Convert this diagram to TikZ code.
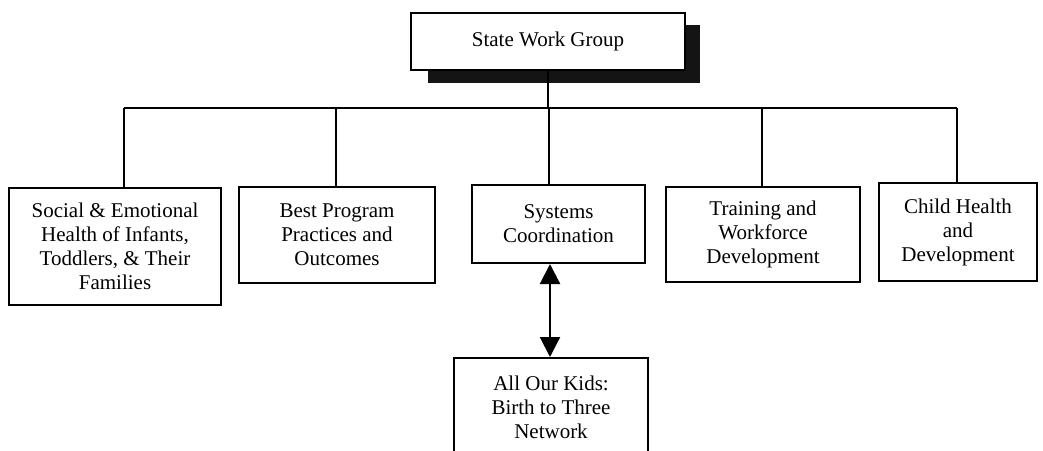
\documentclass[tikz,border=0pt]{standalone}
\usepackage{fontspec}
\setmainfont{Liberation Serif}
\usetikzlibrary{arrows.meta}
\begin{document}
\begin{tikzpicture}[x=1pt,y=-1pt,
  orgbox/.style={draw, line width=2pt, fill=white, align=center, inner sep=0pt,
    font=\fontsize{21}{24}\selectfont},
  link/.style={line width=2pt},
  twoway/.style={line width=2.2pt,
    {Triangle[length=20pt,width=20pt]}-{Triangle[length=20pt,width=20pt]}},
  shadowfill/.style={fill=black!92}]
\useasboundingbox (0,0) rectangle (1043,450);
\clip (0,0) rectangle (1043,450);
% shadow of top box
\fill[shadowfill] (428,25) rectangle (700,83);
\node[orgbox, minimum width=274pt, minimum height=57pt] (top) at (548,41.5) {State Work Group};
% child boxes
\node[orgbox, minimum width=212pt, minimum height=117pt] (soc) at (115,246.5)
  {Social \& Emotional\\Health of Infants,\\Toddlers, \& Their\\Families};
\node[orgbox, minimum width=196pt, minimum height=96pt] (best) at (337,235)
  {Best Program\\Practices and\\Outcomes};
\node[orgbox, minimum width=173pt, minimum height=78pt] (sys) at (558.5,224)
  {Systems\\Coordination};
\node[orgbox, minimum width=194pt, minimum height=95pt] (train) at (763,234.5)
  {Training and\\Workforce\\Development};
\node[orgbox, minimum width=158pt, minimum height=98pt] (child) at (958,232)
  {Child Health\\and\\Development};
\node[orgbox, minimum width=194pt, minimum height=98pt] (kids) at (551,407)
  {All Our Kids:\\Birth to Three\\Network};
% connector joints
\coordinate (j1) at (124,108);
\coordinate (j2) at (336,108);
\coordinate (j3) at (549,108);
\coordinate (j4) at (762,108);
\coordinate (j5) at (957,108);
\coordinate (ax) at (550,0);
% connectors
\draw[link] (top.south) -- (top.south |- j1);
\draw[link] (j1) -- (j5);
\draw[link] (j1) -- (j1 |- soc.north);
\draw[link] (j2) -- (j2 |- best.north);
\draw[link] (j3) -- (j3 |- sys.north);
\draw[link] (j4) -- (j4 |- train.north);
\draw[link] (j5) -- (j5 |- child.north);
\draw[twoway] (ax |- sys.south) -- (ax |- kids.north);
\end{tikzpicture}
\end{document}
